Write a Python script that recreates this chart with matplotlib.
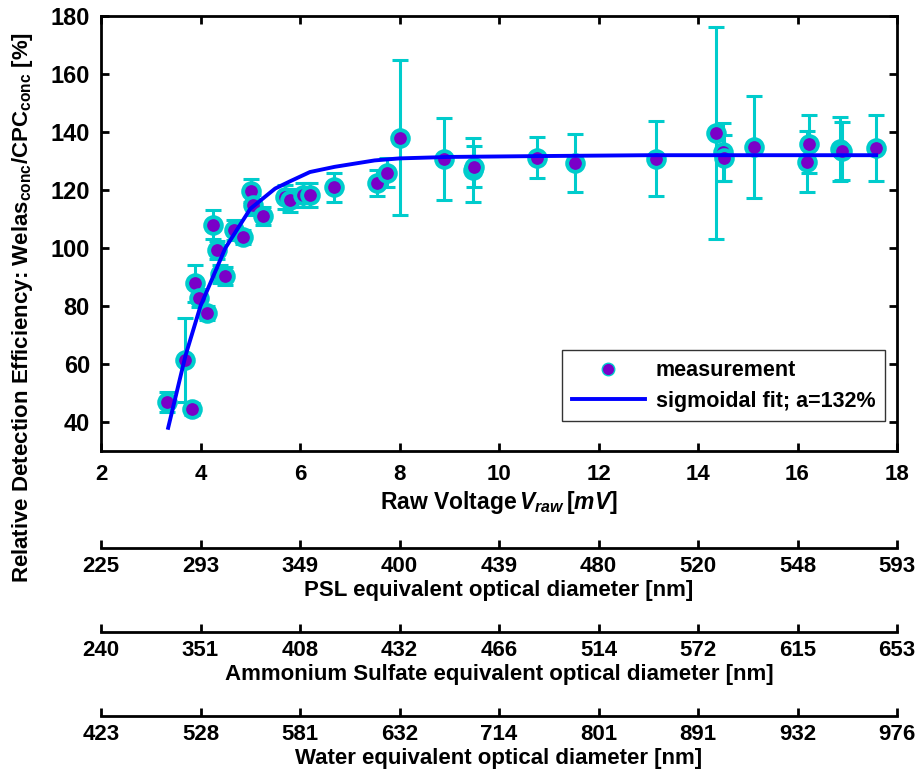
import numpy as np
import matplotlib.pyplot as plt
from matplotlib import font_manager

# Medidas: tensión bruta [mV], eficiencia relativa [%] y su error
voltaje = [3.33, 3.69, 3.83, 3.89, 3.97, 4.13, 4.25, 4.33, 4.39, 4.49,
           4.67, 4.85, 5.02, 5.06, 5.26, 5.70, 5.80, 6.06, 6.20, 6.68,
           7.55, 7.75, 8.01, 8.90, 9.47, 9.50, 10.76, 11.53, 13.15, 14.36,
           14.50, 14.52, 15.13, 16.19, 16.23, 16.85, 16.90, 17.58]
eficiencia = [47.0, 61.4, 44.5, 87.8, 82.8, 77.6, 108.0, 99.3, 91.0, 90.3,
              106.2, 103.8, 119.7, 114.8, 111.0, 117.6, 116.5, 118.3, 118.3, 121.0,
              122.5, 126.0, 138.0, 130.7, 127.0, 128.0, 131.2, 129.3, 130.8, 139.6,
              133.0, 131.0, 134.8, 129.8, 135.9, 134.0, 133.4, 134.5]
error = [3.5, 14.5, 2.0, 6.5, 3.0, 2.5, 5.0, 3.0, 3.0, 3.0,
         3.5, 2.5, 4.0, 3.5, 3.0, 4.0, 4.0, 4.0, 4.0, 5.0,
         4.5, 5.0, 26.7, 14.0, 11.0, 7.0, 7.0, 10.0, 13.0, 36.5,
         10.0, 8.0, 17.6, 10.5, 10.0, 11.0, 10.0, 11.5]

# Ajuste sigmoidal (a = 132 %)
ajuste_v = [3.35, 3.7, 4.0, 4.5, 5.0, 5.5, 5.8, 6.2, 6.7, 7.5, 8.0, 9.0, 10.8, 13.0, 17.58]
ajuste_ef = [38.0, 63.0, 80.0, 100.0, 113.5, 120.5, 123.0, 126.2, 128.0, 130.2,
             130.9, 131.4, 131.7, 132.0, 132.0]

# Ejes secundarios: diámetros ópticos equivalentes
ticks_v = [2, 4, 6, 8, 10, 12, 14, 16, 18]
diam_psl = ['225', '293', '349', '400', '439', '480', '520', '548', '593']
diam_as = ['240', '351', '408', '432', '466', '514', '572', '615', '653']
diam_agua = ['423', '528', '581', '632', '714', '801', '891', '932', '976']

nombres = {f.name for f in font_manager.fontManager.ttflist}
estrecha = 'Liberation Sans Narrow' if 'Liberation Sans Narrow' in nombres else 'Liberation Sans'
fam_estrecha = [estrecha, 'Liberation Sans']

plt.rcParams['font.family'] = ['Liberation Sans', 'DejaVu Sans']
plt.rcParams['font.weight'] = 'bold'
plt.rcParams['axes.labelweight'] = 'bold'
plt.rcParams['mathtext.fontset'] = 'custom'
plt.rcParams['mathtext.rm'] = 'Liberation Sans:bold'
plt.rcParams['mathtext.bf'] = 'Liberation Sans:bold'
plt.rcParams['mathtext.it'] = 'Liberation Sans:italic:bold'

cian = '#00cccc'
morado = '#7a00c8'

fig = plt.figure(figsize=(9.16, 7.7), dpi=100)
x0, ancho = 101 / 916, 796 / 916
ax = fig.add_axes([x0, 1 - 451 / 770, ancho, 435 / 770])

ax.errorbar(voltaje, eficiencia, yerr=error, fmt='none', ecolor=cian,
            elinewidth=2.2, capsize=6, capthick=2.2, zorder=2)
ax.plot(voltaje, eficiencia, 'o', ms=12, mfc=morado, mec=cian, mew=2.8,
        zorder=3, label='measurement')
ax.plot(ajuste_v, ajuste_ef, color='#0000ff', lw=2.8, zorder=4,
        label='sigmoidal fit; a=132%')

ax.set_xlim(2, 18)
ax.set_ylim(30, 180)
ax.set_xticks(ticks_v)
ax.set_yticks(np.arange(40, 181, 20))
ax.tick_params(direction='in', length=6, width=2, top=True, right=True, pad=8)
ax.tick_params(axis='y', labelsize=17)
ax.tick_params(axis='x', labelsize=16, pad=9)
for lab in ax.get_xticklabels():
    lab.set_family(fam_estrecha)
for s in ax.spines.values():
    s.set_linewidth(2)

ax.set_xlabel(r'Raw Voltage$\,\mathit{V_{raw}}$$\,\mathit{[mV]}$', fontsize=16.5,
              family=fam_estrecha, fontweight='bold', labelpad=3)
ax.set_ylabel(r'Relative Detection Efficiency: Welas$_{\mathbf{conc}}$/CPC$_{\mathbf{conc}}$ [%]',
              fontsize=16, fontweight='bold')
ax.yaxis.set_label_coords(-0.083, 0.33)

ley = ax.legend(loc='lower right', bbox_to_anchor=(0.985, 0.068), borderaxespad=0,
                fontsize=15.5, frameon=True, fancybox=False, edgecolor='black',
                borderpad=0.45, handlelength=3.4, handletextpad=0.5,
                labelspacing=0.45, markerscale=0.75)
ley.get_frame().set_linewidth(1)
ley.legend_handles[0].set_markeredgewidth(1.0)

# Ejes de diámetro bajo el eje principal
def eje_diametro(y_px, etiquetas, titulo):
    axd = fig.add_axes([x0, 1 - y_px / 770, ancho, 1e-4])
    axd.set_xlim(2, 18)
    axd.set_xticks(ticks_v)
    axd.set_xticklabels(etiquetas, family=fam_estrecha, fontsize=16, fontweight='bold')
    axd.set_yticks([])
    for lado in ['top', 'left', 'right']:
        axd.spines[lado].set_visible(False)
    axd.spines['bottom'].set_linewidth(2)
    axd.tick_params(axis='x', direction='in', length=6, width=2, pad=6)
    axd.patch.set_visible(False)
    axd.set_xlabel(titulo, fontsize=16, family=fam_estrecha, fontweight='bold', labelpad=2)

eje_diametro(548, diam_psl, 'PSL equivalent optical diameter [nm]')
eje_diametro(632, diam_as, 'Ammonium Sulfate equivalent optical diameter [nm]')
eje_diametro(716, diam_agua, 'Water equivalent optical diameter [nm]')

fig.savefig('out.png', dpi=100)
